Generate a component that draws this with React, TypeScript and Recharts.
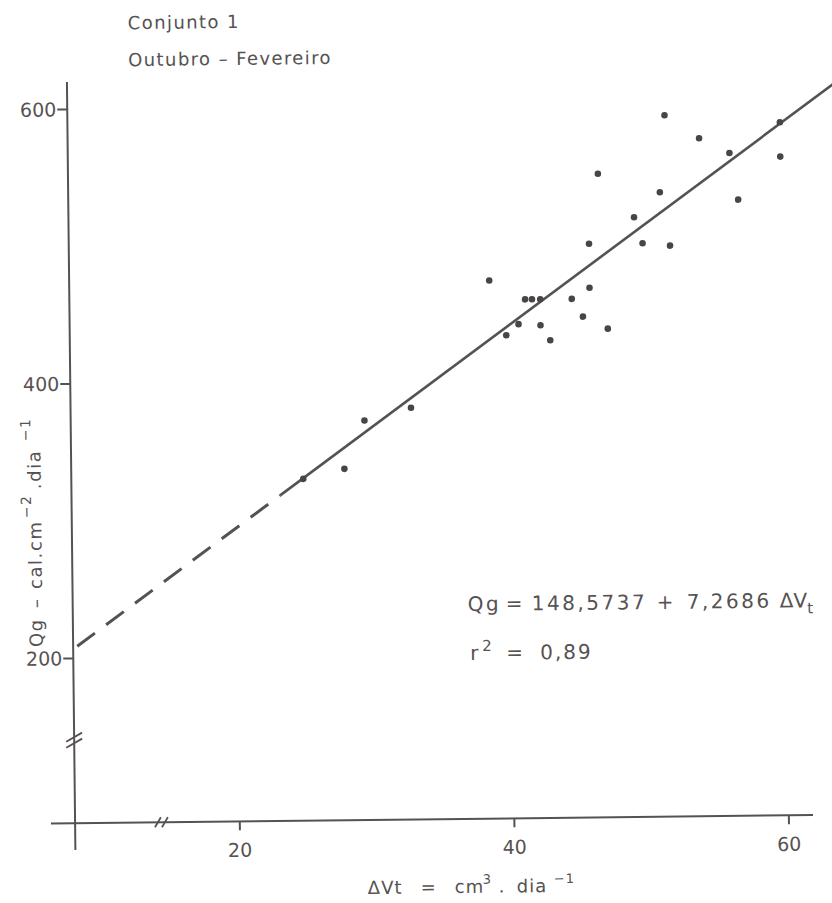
import React from 'react';
import {
  ComposedChart,
  Scatter,
  Line,
  XAxis,
  YAxis,
  ReferenceLine,
  ReferenceDot,
} from 'recharts';

// ---- tick labels ----
const xTicks = [20, 40, 60];
const yTicks = [200, 400, 600];

// ---- observed points: ΔVt (cm3/dia) and Qg (cal/cm2/dia) ----
const deltaVt = [
  24.9, 27.9, 29.4, 32.8, 38.6, 39.8, 40.7, 41.2, 41.7, 42.3, 42.3, 43.0, 44.6, 45.4,
  45.9, 47.2, 45.9, 46.6, 49.2, 49.8, 51.8, 51.1, 51.5, 54.0, 56.2, 56.8, 59.9, 59.9,
];
const qg = [
  329, 336, 371, 380, 472, 432, 440, 458, 458, 458, 439, 428, 458, 445,
  466, 436, 498, 549, 517, 498, 496, 535, 591, 574, 563, 529, 585, 560,
];

// ---- fitted regression as printed on the chart: Qg = a + b·ΔVt ----
const fitIntercept = 148.5737;
const fitSlope = 7.2686;
const fitDashX = [8.3, 23.2]; // extrapolated (dashed) part
const fitSolidX = [23.2, 64.2]; // fitted range (solid)

// ---- axis frame (data units) ----
const xDomain = [8, 64.2];
const yDomain = [80, 620];
const xAxisExtent = [6.24, 61.76];
const yAxisExtent = [60.5, 620];
const xBreakAt = 14.4;
const yBreakAt = 140.1;

const points = deltaVt.map((x, i) => ({ x, y: qg[i] }));
const fit = (x: number) => fitIntercept + fitSlope * x;
const dashLine = fitDashX.map((x) => ({ x, y: fit(x) }));
const solidLine = fitSolidX.map((x) => ({ x, y: fit(x) }));

const INK = '#575252';
const FONT = '"DejaVu Sans", sans-serif';

const Dot = (props: any) => {
  const { cx, cy } = props;
  if (cx == null || cy == null) return null;
  return <circle cx={cx} cy={cy} r={3.3} fill="#4a4545" />;
};

const YBreak = (props: any) => {
  const { cx, cy } = props;
  return (
    <g stroke={INK} strokeWidth={1.8} fill="none">
      <line x1={cx - 8} y1={cy + 1} x2={cx + 8} y2={cy - 8} />
      <line x1={cx - 8} y1={cy + 7} x2={cx + 8} y2={cy - 2} />
    </g>
  );
};

const XBreak = (props: any) => {
  const { cx, cy } = props;
  return (
    <g stroke={INK} strokeWidth={1.8} fill="none">
      <line x1={cx - 8} y1={cy + 5} x2={cx - 2} y2={cy - 5} />
      <line x1={cx - 1} y1={cy + 5} x2={cx + 5} y2={cy - 5} />
    </g>
  );
};

const tickStyle = { fill: INK, fontSize: 19, fontFamily: FONT };

export default function App() {
  return (
    <div style={{ position: 'relative', width: 832, height: 903, overflow: 'hidden', background: '#fff' }}>
      <style>{'body{margin:0;background:#fff}'}</style>
      {/* the original is a slightly skewed scan: reproduce its 0.63° tilt */}
      <div
        style={{
          position: 'absolute',
          left: 0,
          top: 0,
          width: 846,
          height: 903,
          transform: 'rotate(-0.63deg)',
          transformOrigin: '416px 451.5px',
        }}
      >
        <ComposedChart
          width={846}
          height={903}
          margin={{ top: 78.25, right: 3.5, bottom: 53.6, left: 11.02 }}
        >
          <XAxis
            type="number"
            dataKey="x"
            domain={xDomain}
            allowDataOverflow
            ticks={xTicks}
            axisLine={false}
            tickLine={{ stroke: INK, strokeWidth: 2 }}
            tickSize={9}
            tickMargin={13}
            height={30}
            tick={tickStyle}
          />
          <YAxis
            type="number"
            dataKey="y"
            domain={yDomain}
            allowDataOverflow
            ticks={yTicks}
            axisLine={false}
            tickLine={{ stroke: INK, strokeWidth: 2 }}
            tickSize={10}
            tickMargin={1}
            width={60}
            tick={tickStyle}
          />
          <ReferenceLine
            segment={[
              { x: xDomain[0], y: yAxisExtent[0] },
              { x: xDomain[0], y: yAxisExtent[1] },
            ]}
            stroke={INK}
            strokeWidth={2}
            ifOverflow="visible"
          />
          <ReferenceLine
            segment={[
              { x: xAxisExtent[0], y: yDomain[0] },
              { x: xAxisExtent[1], y: yDomain[0] },
            ]}
            stroke={INK}
            strokeWidth={2}
            ifOverflow="visible"
          />
          <ReferenceDot x={xDomain[0]} y={yBreakAt} ifOverflow="visible" shape={YBreak} />
          <ReferenceDot x={xBreakAt} y={yDomain[0]} ifOverflow="visible" shape={XBreak} />
          <Line
            data={dashLine}
            dataKey="y"
            stroke={INK}
            strokeWidth={3}
            strokeDasharray="22 14"
            dot={false}
            activeDot={false}
            isAnimationActive={false}
            type="linear"
          />
          <Line
            data={solidLine}
            dataKey="y"
            stroke={INK}
            strokeWidth={2.6}
            dot={false}
            activeDot={false}
            isAnimationActive={false}
            type="linear"
          />
          <Scatter data={points} shape={Dot} isAnimationActive={false} />
        </ComposedChart>

        <svg
          width={846}
          height={903}
          style={{ position: 'absolute', left: 0, top: 0, pointerEvents: 'none' }}
          fontFamily={FONT}
          fill={INK}
        >
          <text x={132.5} y={26} fontSize={18} letterSpacing={1.4}>Conjunto 1</text>
          <text x={132.5} y={63} fontSize={18} letterSpacing={1.4}>Outubro – Fevereiro</text>

          <text y={611.6} fontSize={20} letterSpacing={2.5}>
            <tspan x={466}>Qg</tspan>
            <tspan x={504}>=</tspan>
            <tspan x={530}>148,5737</tspan>
            <tspan x={655}>+</tspan>
            <tspan x={685}>7,2686</tspan>
            <tspan x={778} letterSpacing={0}>ΔV</tspan>
            <tspan dy={6} fontSize={15}>t</tspan>
          </text>
          <text y={660.6} fontSize={20} letterSpacing={2}>
            <tspan x={468}>r</tspan>
            <tspan x={480} dy={-9} fontSize={15}>2</tspan>
            <tspan x={504} dy={9}>=</tspan>
            <tspan x={538}>0,89</tspan>
          </text>

          <text y={893.5} fontSize={18} letterSpacing={1}>
            <tspan x={363}>ΔVt</tspan>
            <tspan x={416}>=</tspan>
            <tspan x={450}>cm</tspan>
            <tspan x={478} dy={-9} fontSize={13}>3</tspan>
            <tspan x={494} dy={9}>.</tspan>
            <tspan x={512}>dia</tspan>
            <tspan x={549} dy={-9} fontSize={13}>−1</tspan>
          </text>

          <text transform="translate(40.5,643) rotate(-90)" fontSize={18} letterSpacing={1.6}>
            <tspan x={0}>Qg</tspan>
            <tspan x={39}>–</tspan>
            <tspan x={58}>cal.cm</tspan>
            <tspan x={129} dy={-10} fontSize={14}>−2</tspan>
            <tspan x={158} dy={10}>.dia</tspan>
            <tspan x={206} dy={-10} fontSize={14}>−1</tspan>
          </text>
        </svg>
      </div>
    </div>
  );
}
